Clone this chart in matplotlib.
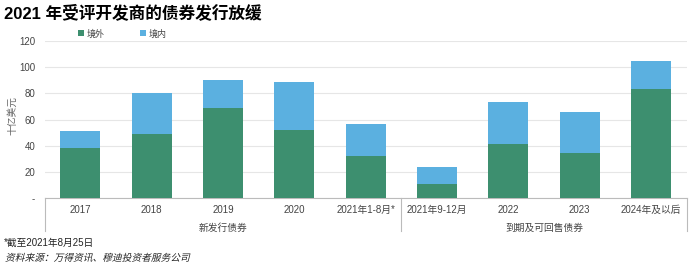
import matplotlib
matplotlib.use("Agg")
import matplotlib.pyplot as plt
from matplotlib.textpath import TextPath
from matplotlib.patches import PathPatch
from matplotlib.font_manager import FontProperties
from matplotlib.transforms import Affine2D

plt.rcParams['font.family'] = ['Liberation Sans', 'Noto Sans CJK SC', 'DejaVu Sans']

categories = ["2017", "2018", "2019", "2020", "2021年1-8月*",
              "2021年9-12月", "2022", "2023", "2024年及以后"]
offshore = [38.5, 48.7, 68.8, 52, 32, 11, 41, 34.6, 83]
onshore = [12.7, 31.5, 21.4, 36.7, 24.3, 13, 32.2, 31, 21.7]
groups = ["新发行债券", "到期及可回售债券"]
group_edges = [-0.5, 4.5, 8.5]

green = "#3d8f6f"
blue = "#5bb0e0"
grey = "#444444"

fig = plt.figure(figsize=(7, 2.71), dpi=100)
ax = fig.add_axes([0.064, 0.269, 0.917, 0.58])

x = range(len(categories))
b1 = ax.bar(x, offshore, width=0.56, color=green, label="境外", zorder=3)
b2 = ax.bar(x, onshore, width=0.56, bottom=offshore, color=blue, label="境内", zorder=3)

ax.set_xlim(-0.5, 8.5)
ax.set_ylim(0, 120)
ax.set_yticks([0, 20, 40, 60, 80, 100, 120])
ax.set_yticklabels(["-", "20", "40", "60", "80", "100", "120"])
ax.set_xticks(list(x))
ax.set_xticklabels(categories)
ax.tick_params(axis="both", length=0, labelsize=7, colors=grey)
ax.tick_params(axis="x", pad=5)
ax.tick_params(axis="y", pad=7)
ax.grid(axis="y", color="#e6e6e6", linewidth=0.8, zorder=0)
for s in ["left", "right", "top"]:
    ax.spines[s].set_visible(False)
ax.spines["bottom"].set_color("#bbbbbb")
fig.text(0.017, 0.575, "十亿美元", rotation=90, fontsize=7, color="#666666",
         ha="center", va="center")

# group separators and labels below the axis
for e in group_edges:
    ax.plot([e, e], [0, -0.21], transform=ax.get_xaxis_transform(),
            color="#bbbbbb", linewidth=0.8, clip_on=False)
ax.text(2, -0.19, groups[0], transform=ax.get_xaxis_transform(),
        ha="center", va="center", fontsize=7, color=grey)
ax.text(6.5, -0.19, groups[1], transform=ax.get_xaxis_transform(),
        ha="center", va="center", fontsize=7, color=grey)

fig.legend(handles=[b1, b2], loc="center left", bbox_to_anchor=(0.1, 0.875),
           ncol=2, frameon=False, fontsize=6.5, handlelength=0.6, handleheight=0.6,
           handletextpad=0.3, columnspacing=4, labelcolor=grey)

fig.text(0.005, 0.955, "2021 年受评开发商的债券发行放缓", fontsize=12,
         fontweight="bold", ha="left", va="center")
fig.text(0.005, 0.105, "*截至2021年8月25日", fontsize=7, ha="left", va="center",
         color="#222222")

# source line in slanted style (CJK font has no italic face)
tp = TextPath((0, 0), "资料来源：万得资讯、穆迪投资者服务公司", size=7,
              prop=FontProperties(family="Noto Sans CJK SC"))
tr = Affine2D().skew_deg(14, 0).scale(1 / 72).translate(0.05, 0.1) + fig.dpi_scale_trans
fig.patches.append(PathPatch(tp, transform=tr, facecolor="#222222", edgecolor="none"))

fig.savefig("out.png", dpi=100)
